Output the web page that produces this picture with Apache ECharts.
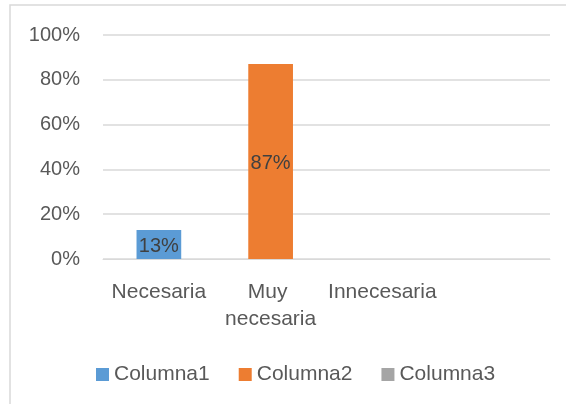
<!DOCTYPE html>
<html>
<head>
<meta charset="utf-8">
<script src="https://cdn.jsdelivr.net/npm/echarts@6/dist/echarts.min.js"></script>
<style>html,body{margin:0;padding:0;background:#fff}#c{width:566px;height:404px}</style>
</head>
<body>
<div id="c"></div>
<script>
const categories = ['Necesaria', 'Muy necesaria', 'Innecesaria', ''];
const seriesNames = ['Columna1', 'Columna2', 'Columna3'];
const columna1 = [0.13, null, null, null];
const columna2 = [null, 0.87, null, null];
const columna3 = [null, null, null, null];
const yTicks = [0, 0.2, 0.4, 0.6, 0.8, 1.0];

const FONT = '"Liberation Sans", Arial, sans-serif';
const colors = ['#5B9BD5', '#ED7D31', '#A5A5A5'];
const chart = echarts.init(document.getElementById('c'), null, {renderer: 'canvas'});
const pct = v => Math.round(v * 100) + '%';
function mk(name, data, color) {
  return {
    name: name, type: 'bar', stack: 'all', data: data, barWidth: '40%',
    itemStyle: {color: color},
    label: {show: true, position: 'inside', offset: [0, 2], color: '#404040', fontFamily: FONT, fontSize: 20,
      formatter: p => (p.value == null ? '' : pct(p.value))}
  };
}
chart.setOption({
  animation: false,
  textStyle: {fontFamily: FONT},
  graphic: [{type: 'rect', shape: {x: 10, y: 5, width: 600, height: 500},
    style: {fill: 'none', stroke: '#D9D9D9', lineWidth: 1.5}, silent: true}],
  grid: {left: 103, right: 16, top: 35, bottom: 145, containLabel: false},
  xAxis: {
    type: 'category', data: categories,
    axisLine: {show: true, lineStyle: {color: '#D9D9D9', width: 1}},
    axisTick: {show: false},
    axisLabel: {interval: 0, color: '#595959', fontFamily: FONT, fontSize: 21, margin: 20,
      lineHeight: 27, width: 110, overflow: 'break'}
  },
  yAxis: {
    type: 'value', min: yTicks[0], max: yTicks[yTicks.length - 1], interval: 0.2,
    axisLine: {show: false}, axisTick: {show: false},
    splitLine: {lineStyle: {color: '#D9D9D9', width: 1.5}},
    axisLabel: {color: '#595959', fontFamily: FONT, fontSize: 20, margin: 23, formatter: v => pct(v)}
  },
  legend: {
    data: seriesNames, left: 91, top: 359, itemWidth: 13, itemHeight: 13, itemGap: 29,
    icon: 'rect', textStyle: {color: '#595959', fontFamily: FONT, fontSize: 21}
  },
  series: [mk(seriesNames[0], columna1, colors[0]), mk(seriesNames[1], columna2, colors[1]), mk(seriesNames[2], columna3, colors[2])]
});
</script>
</body>
</html>
